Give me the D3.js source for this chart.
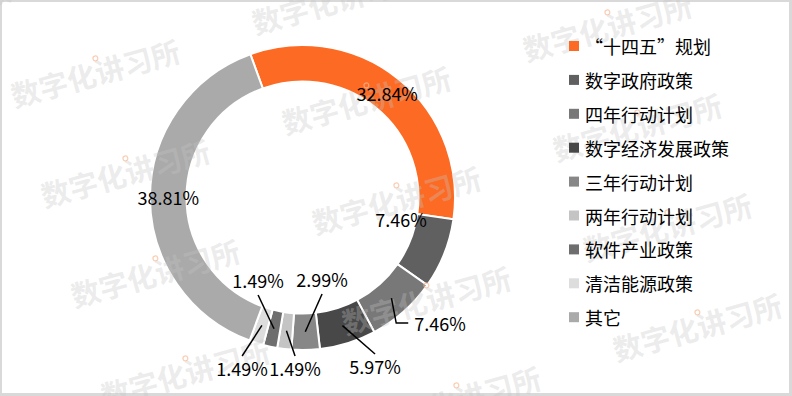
<!DOCTYPE html>
<html>
<head>
<meta charset="utf-8">
<script src="https://cdn.jsdelivr.net/npm/d3@7/dist/d3.min.js"></script>
<style>
  html, body { margin: 0; padding: 0; background: #fff; }
  svg { display: block; }
  text { font-family: "Noto Sans CJK SC", "Noto Sans", sans-serif; }
</style>
</head>
<body>
<svg id="chart" width="792" height="396"></svg>
<script>
// Policy categories and their share of the total (%)
const categories = ["“十四五”规划", "数字政府政策", "四年行动计划", "数字经济发展政策", "三年行动计划", "两年行动计划", "软件产业政策", "清洁能源政策", "其它"];
const shares = [32.84, 7.46, 7.46, 5.97, 2.99, 1.49, 1.49, 1.49, 38.81];
const valueLabels = ["32.84%", "7.46%", "7.46%", "5.97%", "2.99%", "1.49%", "1.49%", "1.49%", "38.81%"];

// Slice colours, in category order
const palette = ["#fd6a23", "#606060", "#787878", "#484848", "#878787", "#c4c4c4", "#6e6e6e", "#dddddd", "#aaaaaa"];

// Label placement: polar position (degrees clockwise from 12 o'clock, radius px) and leader style
const labelPlacement = [
  { at: "centroid" },
  { angle: 102.3, r: 100.8 },
  { angle: 132.4, r: 186.2, leader: "elbow" },
  { angle: 156.7, r: 183.4, leader: "line" },
  { angle: 166.5, r: 83.8, leader: "line" },
  { angle: 182.5, r: 170.7, leader: "line" },
  { angle: 208.3, r: 93.7, leader: "line" },
  { angle: 199.5, r: 180.9, leader: "line" },
  { at: "centroid" }
];

const W = 792, H = 396;
const cx = 302.5, cy = 197.5;
const outerR = 152.5, innerR = 116;
const deg = Math.PI / 180;

const svg = d3.select("#chart");

// Frame
svg.append("rect").attr("x", 0).attr("y", 0).attr("width", W).attr("height", H).attr("fill", "#d9d9d9");
svg.append("rect").attr("x", 2).attr("y", 2).attr("width", 787).attr("height", 391).attr("fill", "#ffffff");

const pie = d3.pie().sort(null).value(d => d)
  .startAngle(-20 * deg).endAngle(340 * deg);
const arcs = pie(shares);

const arc = d3.arc().innerRadius(innerR).outerRadius(outerR);

const donut = svg.append("g").attr("transform", `translate(${cx},${cy})`);
donut.selectAll("path.slice")
  .data(arcs)
  .join("path")
  .attr("class", "slice")
  .attr("d", arc)
  .attr("fill", (d, i) => palette[i])
  .attr("stroke", "#ffffff")
  .attr("stroke-width", 2)
  .attr("stroke-linejoin", "miter");

// Tiled watermark
const wm = svg.append("g").attr("pointer-events", "none");
const tileBase = [95, 72], stepA = [271, 27], stepB = [30, 100];
for (let i = -2; i <= 3; i++) {
  for (let j = -2; j <= 4; j++) {
    const x = tileBase[0] + i * stepA[0] + j * stepB[0];
    const y = tileBase[1] + i * stepA[1] + j * stepB[1];
    if (x < -120 || x > W + 120 || y < -60 || y > H + 60) continue;
    const g = wm.append("g").attr("transform", `translate(${x},${y}) rotate(-15.5)`);
    g.append("text")
      .attr("text-anchor", "middle")
      .attr("dominant-baseline", "central")
      .attr("font-size", 29)
      .attr("font-weight", 700)
      .attr("fill", "#c4c4c4")
      .attr("fill-opacity", 0.33)
      .text("数字化讲习所");
    g.append("circle")
      .attr("cx", 4).attr("cy", -13).attr("r", 2.4)
      .attr("fill", "none")
      .attr("stroke", "#f7b995")
      .attr("stroke-opacity", 0.7)
      .attr("stroke-width", 1.2);
  }
}

// Data labels with leader lines
const labelLayer = svg.append("g").attr("transform", `translate(${cx},${cy})`);
const polar = (a, r) => [r * Math.sin(a * deg), -r * Math.cos(a * deg)];
const midR = (innerR + outerR) / 2;
const centroidArc = d3.arc().innerRadius(midR).outerRadius(midR);

arcs.forEach((d, i) => {
  const p = labelPlacement[i];
  const c = centroidArc.centroid(d);
  const pos = p.at === "centroid" ? c : polar(p.angle, p.r);
  const txt = labelLayer.append("text")
    .attr("x", pos[0]).attr("y", pos[1])
    .attr("text-anchor", "middle")
    .attr("dominant-baseline", "central")
    .attr("font-size", 18)
    .attr("fill", "#000")
    .text(valueLabels[i]);

  if (p.leader === "line") {
    const below = pos[1] > c[1];
    const end = [pos[0], below ? pos[1] - 12 : pos[1] + 15];
    labelLayer.append("line")
      .attr("x1", c[0]).attr("y1", c[1])
      .attr("x2", end[0]).attr("y2", end[1])
      .attr("stroke", "#000").attr("stroke-width", 1.5);
  } else if (p.leader === "elbow") {
    const w = txt.node().getComputedTextLength();
    const left = pos[0] - w / 2;
    labelLayer.append("polyline")
      .attr("points", [c, [left - 18, pos[1]], [left - 6, pos[1]]].map(q => q.join(",")).join(" "))
      .attr("fill", "none")
      .attr("stroke", "#000").attr("stroke-width", 1.5);
  }
});

// Legend
const legend = svg.append("g").attr("transform", "translate(569,46)");
const rowGap = 33.9;
const rows = legend.selectAll("g.row")
  .data(categories)
  .join("g")
  .attr("class", "row")
  .attr("transform", (d, i) => `translate(0,${i * rowGap})`);
rows.append("rect")
  .attr("x", 0).attr("y", -5).attr("width", 10).attr("height", 10)
  .attr("fill", (d, i) => palette[i]);
rows.append("text")
  .attr("x", 16).attr("y", 0)
  .attr("dominant-baseline", "central")
  .attr("font-size", 18)
  .attr("fill", "#000")
  .text(d => d);
</script>
</body>
</html>
